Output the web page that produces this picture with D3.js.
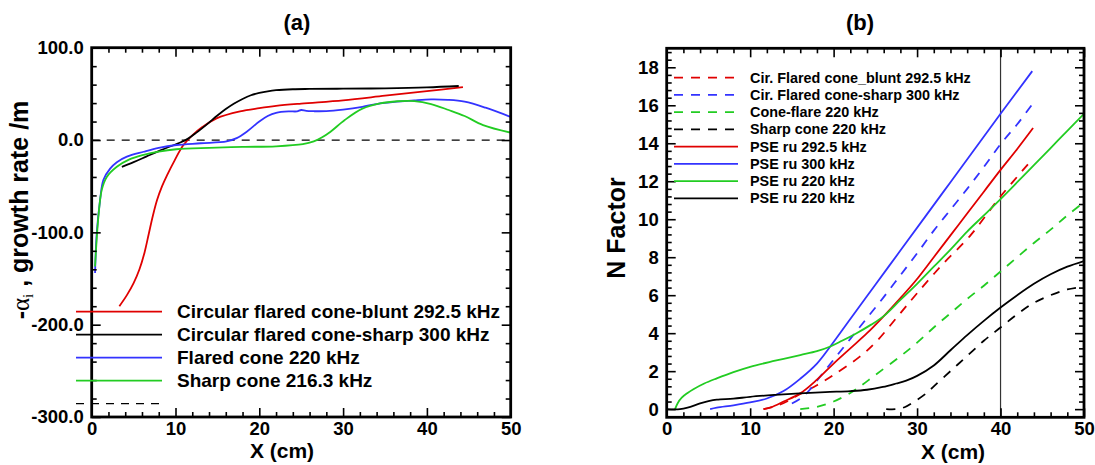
<!DOCTYPE html>
<html>
<head>
<meta charset="utf-8">
<script src="https://cdn.jsdelivr.net/npm/d3@7"></script>
<style>
  body { margin: 0; background: #fff; }
  svg { display: block; }
  text { font-family: "Liberation Sans", Arial, sans-serif; font-weight: bold; fill: #000; }
</style>
</head>
<body>
<svg id="chart" width="1095" height="465"></svg>
<script>
// ---------- Panel (a): spatial growth rate -alpha_i (1/m) vs X (cm) ----------
const rateBlunt292 = [[3.3,-180],[4.2,-168],[5,-155],[5.7,-140],[6.3,-122],[6.8,-102],[7.3,-82],[7.8,-65],[8.4,-50],[9,-38],[9.9,-22],[10.9,-6],[12,5],[13.2,14],[14.9,23.5],[17.7,31],[20,34.5],[22,37],[25,39.5],[30,43],[35,48],[40,53],[44.3,57.3]];
const rateSharp300 = [[3.6,-29],[5,-24],[6.5,-18],[8,-12],[9.5,-6.5],[10.5,-3],[11.5,1.5],[12.5,8],[13.75,17],[15,26.5],[16,33.5],[17,39.5],[18,44.5],[19,48.5],[20,51],[21,52.8],[22,54],[24,55],[26,55.3],[30,55.6],[35,56],[40,57],[43.8,58.5]];
const rateFlared220 = [[0.4,-144],[0.6,-101],[1.0,-65],[1.4,-43],[2.2,-31],[3,-24],[4.2,-18],[6.2,-12.7],[8,-8.5],[10.1,-5.4],[13,-3.5],[16.1,-1.5],[17.3,2],[18.5,9],[20,20],[21,26],[22,29.5],[23.5,31],[24.5,31],[25,32.5],[25.6,31.5],[26.5,31.2],[28,31.3],[30,33],[32.3,36],[34,39],[36.4,41.5],[38.5,43],[40.5,44],[42.5,43.5],[44.5,41.5],[47,35],[50,25]];
const rateSharpCone216 = [[0.4,-137],[0.8,-83],[1.2,-54],[1.8,-40],[3,-29],[4.5,-21],[6.2,-16],[8,-12.5],[10.1,-10],[14,-8.5],[18,-7.5],[22,-6.8],[25.2,-4.5],[26.5,-1.5],[27.5,3],[28.5,9],[30.2,21.7],[32.3,34],[34.4,39.7],[36.5,42],[38.5,42.2],[40.5,39],[42.6,32.5],[44.5,26],[46.7,16.2],[50,8]];
const rateLabels = ["Circular flared cone-blunt 292.5 kHz", "Circular flared cone-sharp 300 kHz", "Flared cone 220 kHz", "Sharp cone 216.3 kHz"];
const rateTicksY = [-300, -200, -100, 0, 100];
const rateTicksX = [0, 10, 20, 30, 40, 50];

// ---------- Panel (b): N factor vs X (cm) ----------
const nBluntLst = [[11.6,0],[13,0.15],[14.4,0.4],[16,0.8],[18,1.26],[20,1.8],[23.1,2.75],[25,3.5],[27.9,5.0],[30,6.1],[33,7.6],[36.3,9.1],[40,11.2],[43.8,13.15]];
const nSharpLst = [[15,0.3],[16,0.55],[17,0.95],[18,1.5],[20,2.6],[22,3.7],[24,4.8],[26,5.9],[28,7.05],[30,8.2],[32,9.4],[34,10.5],[36,11.6],[38,12.75],[40,13.95],[42,15],[43.8,16.05]];
const nConeFlareLst = [[16,0],[18,0.12],[20,0.4],[22,0.85],[23.1,1.17],[25,1.8],[27.9,2.75],[30,3.5],[32,4.3],[34,5.05],[36,5.8],[38,6.5],[40,7.25],[42,8.0],[44,8.75],[46,9.45],[48,10.2],[50,10.9]];
const nSharpConeLst = [[26.3,0],[27.5,0],[28.5,0.1],[29.5,0.35],[31,0.8],[32,1.2],[34,2.0],[36,2.8],[38,3.6],[40,4.3],[42,5.0],[44,5.6],[46,6.0],[48,6.3],[50,6.45]];
const nPse292 = [[11.6,0],[12.5,0.1],[14,0.4],[16,0.83],[18,1.55],[20,2.4],[22,3.2],[24,4.0],[25.9,4.85],[28,5.85],[29.9,6.8],[32,8.0],[34,9.15],[36,10.3],[38,11.45],[40,12.6],[42,13.7],[43.9,14.8]];
const nPse300 = [[5.2,0],[6,0.08],[8,0.2],[10,0.35],[12,0.56],[14,0.95],[16,1.6],[18,2.4],[19.6,3.3],[22,4.75],[25,6.55],[28,8.35],[31,10.15],[34,11.95],[37,13.75],[40,15.55],[43.8,17.8]];
const nPse220a = [[1,0],[1.3,0.3],[1.8,0.6],[2.5,0.85],[3.2,1.05],[4.5,1.35],[6,1.62],[8,1.95],[10,2.23],[13,2.55],[16,2.85],[18,3.05],[19.6,3.3],[21,3.6],[22.75,4.0],[24.5,4.45],[26,4.9],[28,5.75],[30,6.6],[32,7.5],[34,8.4],[36,9.35],[38,10.2],[40,11.06],[42,11.95],[44,12.85],[46,13.75],[48,14.65],[50,15.55]];
const nPse220b = [[0,0],[1.6,0],[2.5,0.08],[4,0.3],[5,0.42],[6,0.5],[8,0.55],[10,0.65],[13,0.75],[16,0.83],[19,0.9],[22,0.95],[24,1.02],[25.9,1.17],[27.5,1.35],[28.7,1.5],[30,1.75],[32,2.3],[34,3.1],[36,3.9],[38,4.65],[40,5.35],[42,6.0],[44,6.6],[46,7.1],[48,7.5],[50,7.8]];
const nLabels = ["Cir. Flared cone_blunt 292.5 kHz", "Cir. Flared cone-sharp 300 kHz", "Cone-flare 220 kHz", "Sharp cone 220 kHz", "PSE ru 292.5 kHz", "PSE ru 300 kHz", "PSE ru 220 kHz", "PSE ru 220 kHz"];
const nTicksY = [0, 2, 4, 6, 8, 10, 12, 14, 16, 18];
const nTicksX = [0, 10, 20, 30, 40, 50];
const nMarkerX = 40;

// ---------- shared styling ----------
const RED = "#e00000", BLUE = "#3333ff", GREEN = "#22cc22", BLACK = "#000000";
const DASH = "9,8";
const fmtLocale = d3.formatLocale({decimal: ".", thousands: ",", grouping: [3], currency: ["", ""], minus: "-"});
const fmt1 = fmtLocale.format(".1f");
const fmt0 = fmtLocale.format("d");

const svg = d3.select("#chart");

function range(a, b, step) {
  const out = [];
  for (let v = a; v <= b + 1e-9; v += step) out.push(+v.toFixed(6));
  return out;
}

// Framed box with inward major/minor ticks on all four sides.
function frame(g, x, y, opt) {
  const [x0, x1] = x.range(), [y0, y1] = y.range();
  const minorX = range(x.domain()[0], x.domain()[1], opt.minorX).filter(v => !opt.ticksX.includes(v));
  const minorY = range(opt.minorYStart, y.domain()[1], opt.minorY).filter(v => !opt.ticksY.some(t => Math.abs(t - v) < 1e-6));
  [[d3.axisBottom(x), y0, true], [d3.axisTop(x), y1, false]].forEach(([ax, ty, labels]) => {
    g.append("g").attr("transform", `translate(0,${ty})`)
      .call(ax.tickValues(opt.ticksX).tickSize(-9).tickPadding(5).tickFormat(labels ? opt.fmtX : ""))
      .call(s => s.select(".domain").remove());
    g.append("g").attr("transform", `translate(0,${ty})`)
      .call(ax.tickValues(minorX).tickSize(-5).tickFormat(""))
      .call(s => s.select(".domain").remove());
  });
  [[d3.axisLeft(y), x0, true], [d3.axisRight(y), x1, false]].forEach(([ax, tx, labels]) => {
    g.append("g").attr("transform", `translate(${tx},0)`)
      .call(ax.tickValues(opt.ticksY).tickSize(-9).tickPadding(8).tickFormat(labels ? opt.fmtY : ""))
      .call(s => s.select(".domain").remove());
    g.append("g").attr("transform", `translate(${tx},0)`)
      .call(ax.tickValues(minorY).tickSize(-5).tickFormat(""))
      .call(s => s.select(".domain").remove());
  });
  g.selectAll(".tick line").attr("stroke", "#000").attr("stroke-width", 1.6);
  g.selectAll(".tick text").attr("font-size", 18.5).attr("font-family", '"Liberation Sans", Arial, sans-serif').attr("font-weight", "bold");
  g.append("rect").attr("x", x0).attr("y", y1).attr("width", x1 - x0).attr("height", y0 - y1)
    .attr("fill", "none").attr("stroke", "#000").attr("stroke-width", 2.8);
}

function drawSeries(g, x, y, data, color, dashed, clipId) {
  const line = d3.line().x(d => x(d[0])).y(d => y(d[1])).curve(d3.curveCatmullRom.alpha(0.5));
  g.append("path").datum(data).attr("d", line)
    .attr("fill", "none").attr("stroke", color).attr("stroke-width", 1.8)
    .attr("stroke-dasharray", dashed ? DASH : null)
    .attr("clip-path", clipId ? `url(#${clipId})` : null);
}

// ===== Panel (a) =====
{
  const x = d3.scaleLinear().domain([0, 50]).range([91.7, 510.7]);
  const y = d3.scaleLinear().domain([-300, 100]).range([417, 47.7]);
  const g = svg.append("g");

  // zero reference line
  g.append("line").attr("x1", x(0)).attr("x2", x(50)).attr("y1", y(0)).attr("y2", y(0))
    .attr("stroke", "#000").attr("stroke-width", 1.2).attr("stroke-dasharray", "8,7");

  const series = [rateBlunt292, rateSharp300, rateFlared220, rateSharpCone216];
  const colors = [RED, BLACK, BLUE, GREEN];
  series.forEach((s, i) => drawSeries(g, x, y, s, colors[i], false));

  frame(g, x, y, {ticksX: rateTicksX, ticksY: rateTicksY, minorX: 2, minorY: 20, minorYStart: -300, fmtX: fmt0, fmtY: fmt1});

  // legend
  const leg = g.append("g");
  const rows = [...rateLabels, ""];
  rows.forEach((lab, i) => {
    const ly = 311.7 + i * 23;
    leg.append("line").attr("x1", 76).attr("x2", 162).attr("y1", ly).attr("y2", ly)
      .attr("stroke", i < 4 ? colors[i] : "#000").attr("stroke-width", i < 4 ? 1.8 : 1.2)
      .attr("stroke-dasharray", i < 4 ? null : "8,7");
    if (lab) leg.append("text").attr("x", 177).attr("y", ly).attr("dy", "0.35em")
      .attr("font-size", 19).text(lab);
  });

  svg.append("text").attr("x", 297).attr("y", 22).attr("dy", "0.35em").attr("text-anchor", "middle")
    .attr("font-size", 22).text("(a)");
  svg.append("text").attr("x", 282).attr("y", 451).attr("dy", "0.35em").attr("text-anchor", "middle")
    .attr("font-size", 21).text("X (cm)");
  const yt = svg.append("text").attr("transform", "translate(20,210) rotate(-90)")
    .attr("text-anchor", "middle").attr("dy", "0.35em").attr("font-size", 25);
  yt.append("tspan").text("-");
  yt.append("tspan").attr("font-family", '"Liberation Serif", "DejaVu Serif", serif').attr("font-weight", "normal").text("α");
  yt.append("tspan").attr("font-family", '"Liberation Serif", "DejaVu Serif", serif').attr("font-weight", "normal")
    .attr("font-size", 15).attr("dy", "0.3em").text("i");
  yt.append("tspan").attr("dy", "-0.2em").text(" , growth rate /m");
}

// ===== Panel (b) =====
{
  const x = d3.scaleLinear().domain([0, 50]).range([666.7, 1084]);
  const y = d3.scaleLinear().domain([-0.43, 19]).range([417.3, 48.3]);
  const g = svg.append("g");

  svg.append("clipPath").attr("id", "clipB").append("rect")
    .attr("x", 666.7).attr("y", 48.3).attr("width", 1084 - 666.7).attr("height", 417.3 - 48.3);

  // reference station line
  g.append("line").attr("x1", x(nMarkerX)).attr("x2", x(nMarkerX)).attr("y1", y(-0.43)).attr("y2", y(19))
    .attr("stroke", "#333").attr("stroke-width", 1.2);

  const series = [nBluntLst, nSharpLst, nConeFlareLst, nSharpConeLst, nPse292, nPse300, nPse220a, nPse220b];
  const colors = [RED, BLUE, GREEN, BLACK, RED, BLUE, GREEN, BLACK];
  series.forEach((s, i) => drawSeries(g, x, y, s, colors[i], i < 4, "clipB"));

  frame(g, x, y, {ticksX: nTicksX, ticksY: nTicksY, minorX: 2, minorY: 0.4, minorYStart: 0, fmtX: fmt0, fmtY: fmt0});

  const leg = g.append("g");
  nLabels.forEach((lab, i) => {
    const ly = 77.7 + i * 17.23;
    leg.append("line").attr("x1", 674).attr("x2", 738).attr("y1", ly).attr("y2", ly)
      .attr("stroke", colors[i]).attr("stroke-width", 1.8).attr("stroke-dasharray", i < 4 ? DASH : null);
    leg.append("text").attr("x", 750).attr("y", ly).attr("dy", "0.35em").attr("font-size", 14.4).text(lab);
  });

  svg.append("text").attr("x", 860).attr("y", 22).attr("dy", "0.35em").attr("text-anchor", "middle")
    .attr("font-size", 22).text("(b)");
  svg.append("text").attr("x", 953).attr("y", 452).attr("dy", "0.35em").attr("text-anchor", "middle")
    .attr("font-size", 21).text("X (cm)");
  svg.append("text").attr("transform", "translate(616,228) rotate(-90)")
    .attr("text-anchor", "middle").attr("dy", "0.35em").attr("font-size", 25).text("N Factor");
}
</script>
</body>
</html>
